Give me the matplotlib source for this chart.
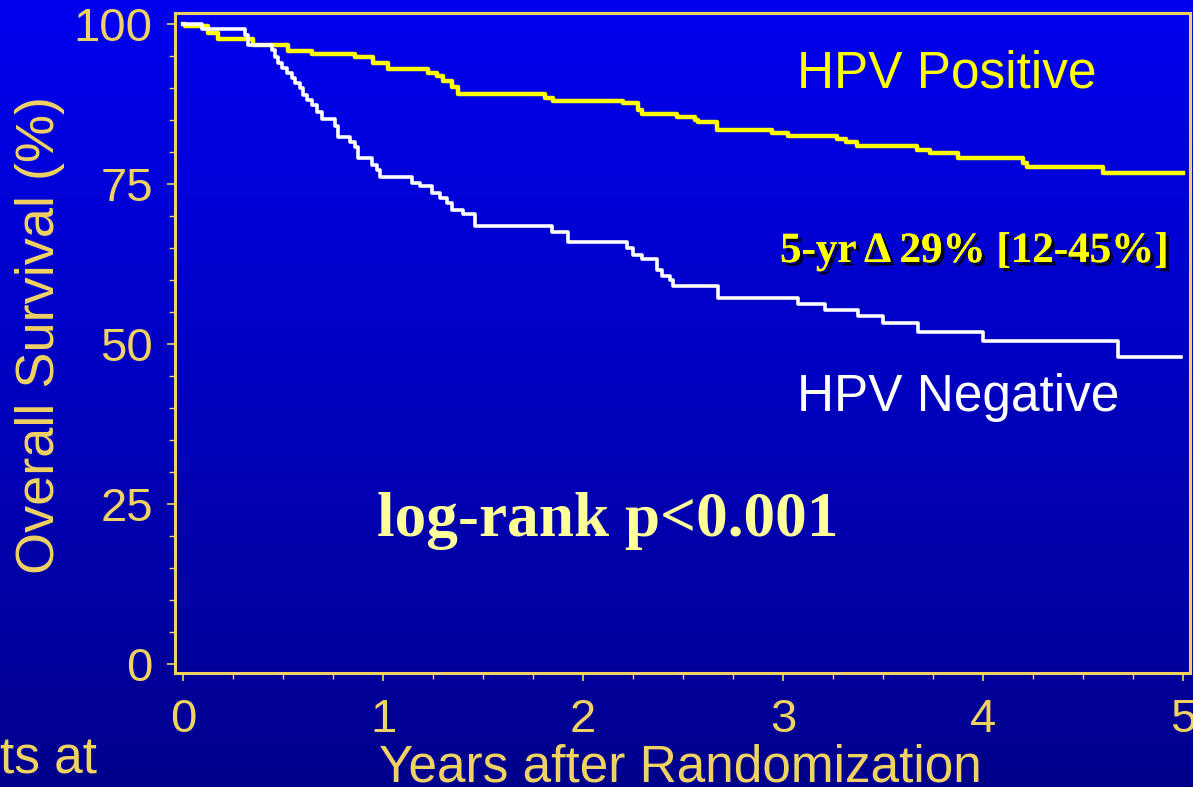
import numpy as np
import matplotlib
matplotlib.use("Agg")
import matplotlib.pyplot as plt
import matplotlib.patheffects as pe
from matplotlib.colors import LinearSegmentedColormap
from matplotlib.ticker import MultipleLocator

# ---- data (years, % alive) ----
pos_t = [0.0, 0.01, 0.125, 0.175, 0.35, 0.525, 0.645, 0.86, 0.95, 1.025,
         1.225, 1.27, 1.30, 1.345, 1.375, 1.81, 1.85, 2.2, 2.275, 2.295,
         2.47, 2.56, 2.575, 2.67, 2.945, 3.025, 3.27, 3.315, 3.37, 3.67,
         3.735, 3.875, 4.2, 4.22, 4.6, 5.0]
pos_s = [100.0, 99.6, 98.6, 97.7, 96.7, 95.7, 95.3, 94.8, 93.9, 92.9,
         92.4, 91.8, 91.0, 90.1, 89.1, 88.5, 88.0, 87.6, 86.6, 86.0,
         85.5, 85.0, 84.6, 83.5, 82.9, 82.5, 82.0, 81.5, 80.9, 80.3,
         79.8, 79.1, 78.3, 77.6, 76.7, 76.7]

neg_t = [0.0, 0.095, 0.31, 0.325, 0.445, 0.46, 0.475, 0.495, 0.52, 0.545,
         0.56, 0.585, 0.60, 0.62, 0.645, 0.67, 0.695, 0.76, 0.775, 0.835,
         0.86, 0.875, 0.945, 0.97, 0.985, 1.145, 1.185, 1.245, 1.285, 1.32,
         1.345, 1.40, 1.46, 1.845, 1.925, 2.22, 2.25, 2.295, 2.37, 2.395,
         2.435, 2.45, 2.675, 3.075, 3.21, 3.375, 3.5, 3.675, 4.0, 4.675, 4.99]
neg_s = [100.0, 99.2, 98.2, 96.7, 95.9, 94.9, 93.9, 93.1, 92.3, 91.5,
         90.7, 90.0, 88.9, 88.1, 87.3, 86.3, 85.1, 84.0, 82.4, 81.6,
         80.8, 79.0, 78.0, 77.2, 76.1, 75.2, 74.6, 73.6, 72.8, 72.0,
         71.0, 70.3, 68.4, 67.5, 66.0, 65.0, 63.9, 63.2, 61.6, 60.6,
         60.0, 59.0, 57.2, 56.3, 55.3, 54.4, 53.2, 51.9, 50.4, 48.0, 48.0]

x_ticks = [0, 1, 2, 3, 4, 5]
y_ticks = [0, 25, 50, 75, 100]

GOLD = "#F0D262"
SANS = "Liberation Sans"
SERIF = "Liberation Serif"

fig = plt.figure(figsize=(11.93, 7.87), dpi=100)

# blue slide background, bright at the top, navy at the bottom
bg = fig.add_axes([0, 0, 1, 1], zorder=0)
cmap = LinearSegmentedColormap.from_list("slide", [(0, 0, 240 / 255), (0, 0, 140 / 255)])
bg.imshow(np.linspace(0, 1, 256).reshape(-1, 1), aspect="auto", cmap=cmap,
          extent=[0, 1, 0, 1])
bg.axis("off")

ax = fig.add_axes([175 / 1193, 114 / 787, 1015 / 1193, 660 / 787], zorder=1)
ax.patch.set_alpha(0)

ax.step(pos_t, pos_s, where="post", color="#FFFF00", lw=3.2, zorder=3)
ax.step(neg_t, neg_s, where="post", color="white", lw=2.6, zorder=4)

ax.set_xlim(-0.04, 5.035)
ax.set_ylim(-1.4, 101.7)
ax.set_xticks(x_ticks)
ax.set_yticks(y_ticks)
ax.xaxis.set_minor_locator(MultipleLocator(0.25))
ax.yaxis.set_minor_locator(MultipleLocator(5))
for sp in ax.spines.values():
    sp.set_color(GOLD)
    sp.set_linewidth(2.2)
ax.tick_params(which="major", colors=GOLD, length=6, width=1.2, labelsize=34,
               labelcolor=GOLD)
ax.tick_params(which="minor", colors=GOLD, length=4, width=1.0)
ax.tick_params(axis="y", pad=10)
ax.tick_params(axis="x", pad=12)
for lab in ax.get_xticklabels() + ax.get_yticklabels():
    lab.set_family(SANS)

ax.text(3.07, 90.0, "HPV Positive", color="#FFFF00", fontsize=37, family=SANS,
        ha="left", va="baseline")
ax.text(3.07, 39.5, "HPV Negative", color="white", fontsize=37, family=SANS,
        ha="left", va="baseline")
ax.text(2.985, 62.8, "5-yr \u0394 29% [12-45%]", color="#FFFF00", fontsize=31,
        family=SERIF, weight="bold", ha="left", va="baseline",
        path_effects=[pe.withSimplePatchShadow(offset=(2.5, -2.5), shadow_rgbFace="black",
                                               alpha=0.8), pe.Normal()])
ax.text(0.97, 20.0, "log-rank p<0.001", color="#FFFF99", fontsize=45.5,
        family=SERIF, weight="bold", ha="left", va="baseline")

fig.text(40 / 1193, 1 - 335 / 787, "Overall Survival (%)", color=GOLD, fontsize=39,
         family=SANS, rotation=90, ha="center", va="center")
fig.text(680 / 1193, 6 / 787, "Years after Randomization", color=GOLD, fontsize=37,
         family=SANS, ha="center", va="baseline")
fig.text(0.0, 14 / 787, "ts at", color=GOLD, fontsize=37, family=SANS,
         ha="left", va="baseline")

fig.savefig("out.png", dpi=100)
